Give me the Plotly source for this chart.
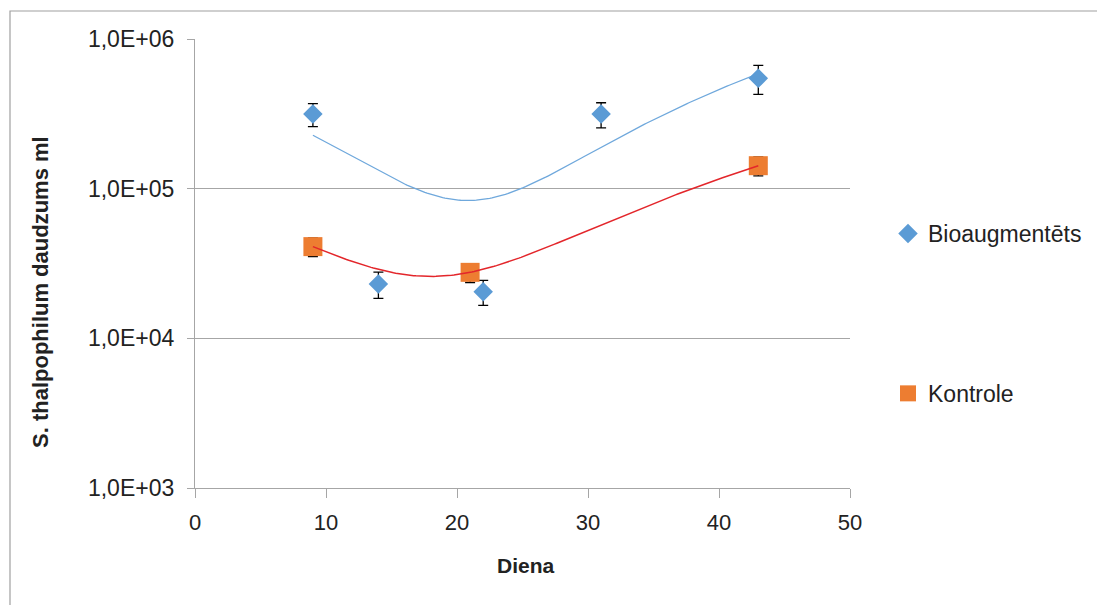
import numpy as np
import plotly.graph_objects as go

# Data
bio_x = [9, 14, 22, 31, 43]
bio_y = [3.15e5, 2.31e4, 2.05e4, 3.15e5, 5.46e5]
bio_err = [5.5e4, 4.6e3, 3.9e3, 6.0e4, 1.2e5]

kon_x = [9, 21, 43]
kon_y = [4.10e4, 2.76e4, 1.424e5]
kon_err = [5.9e3, 4.0e3, 2.07e4]

y_tickvals = [1e3, 1e4, 1e5, 1e6]
y_ticktext = ["1,0E+03", "1,0E+04", "1,0E+05", "1,0E+06"]
x_tickvals = [0, 10, 20, 30, 40, 50]

series_names = ["Bioaugmentēts", "Kontrole"]
x_title = "Diena"
y_title = "S. thalpophilum daudzums ml"

# Polynomial (order 2) trendlines, as in the spreadsheet
bio_coef = np.polyfit(bio_x, bio_y, 2)
kon_coef = np.polyfit(kon_x, kon_y, 2)
tx_bio = np.linspace(min(bio_x), max(bio_x), 200)
tx_kon = np.linspace(min(kon_x), max(kon_x), 200)

FONT = "Liberation Sans"
OFF = 8  # page offset of the figure in the browser
W, H = 1105 - OFF, 605 - OFF
L, T = 195 - OFF, 39 - OFF
R = W - (850 - OFF)
B = H - (488 - OFF)
pw, ph = 850 - 195, 488 - 39

def px_x(p):  # page pixel -> paper
    return (p - 195) / pw

def px_y(p):
    return (488 - p) / ph

fig = go.Figure()
fig.add_trace(go.Scatter(x=tx_bio, y=np.polyval(bio_coef, tx_bio), mode="lines",
                         line=dict(color="#6FA8DC", width=1.3), showlegend=False,
                         hoverinfo="skip"))
fig.add_trace(go.Scatter(x=bio_x, y=bio_y, mode="markers", name=series_names[0],
                         legendgroup="a",
                         marker=dict(symbol="diamond", size=15, color="#5B9BD5"),
                         error_y=dict(type="data", array=bio_err, color="black",
                                      thickness=1.3, width=5)))
fig.add_trace(go.Scatter(x=kon_x, y=kon_y, mode="markers", name=series_names[1],
                         legendgroup="b",
                         marker=dict(symbol="square", size=19, color="#ED7D31"),
                         error_y=dict(type="data", array=kon_err, color="black",
                                      thickness=1.3, width=5)))
fig.add_trace(go.Scatter(x=tx_kon, y=np.polyval(kon_coef, tx_kon), mode="lines",
                         line=dict(color="#E3262B", width=1.5), showlegend=False,
                         hoverinfo="skip"))

TXT = "#222222"
fig.update_layout(
    width=W, height=H,
    margin=dict(l=L, r=R, t=T, b=B, pad=0),
    paper_bgcolor="white", plot_bgcolor="white",
    font=dict(family=FONT, size=22, color=TXT),
    showlegend=True,
    legend=dict(x=px_x(888), y=px_y(212), xanchor="left", yanchor="top",
                font=dict(family=FONT, size=23, color=TXT),
                tracegroupgap=127, bgcolor="rgba(0,0,0,0)"),
    xaxis=dict(range=[0, 50], tickvals=x_tickvals, showgrid=False,
               showline=True, linecolor="#A6A6A6", linewidth=1.3,
               ticks="outside", ticklen=9, tickcolor="#A6A6A6",
               ticklabelstandoff=5,
               tickfont=dict(family=FONT, size=22, color=TXT),
               zeroline=False),
    yaxis=dict(type="log", range=[3, 6], tickvals=y_tickvals, ticktext=y_ticktext,
               showgrid=True, gridcolor="#A6A6A6", gridwidth=1.1,
               showline=True, linecolor="#A6A6A6", linewidth=1.3,
               ticks="outside", ticklen=7, tickcolor="#A6A6A6",
               ticklabelstandoff=8,
               tickfont=dict(family=FONT, size=23, color=TXT),
               zeroline=False),
    annotations=[
        dict(text="<b>" + x_title + "</b>", x=px_x(526), y=px_y(565),
             xref="paper", yref="paper", showarrow=False,
             xanchor="center", yanchor="middle",
             font=dict(family=FONT, size=21, color=TXT)),
        dict(text="<b>" + y_title + "</b>", x=px_x(40), y=px_y(292),
             xref="paper", yref="paper", showarrow=False, textangle=-90,
             xanchor="center", yanchor="middle",
             font=dict(family=FONT, size=22, color=TXT)),
    ],
    shapes=[
        dict(type="rect", xref="paper", yref="paper",
             x0=px_x(10), x1=px_x(1110), y0=px_y(640), y1=px_y(11),
             line=dict(color="#A0A0A0", width=1.2), fillcolor="rgba(0,0,0,0)",
             layer="below"),
    ],
)

fig.write_html("out.html")
